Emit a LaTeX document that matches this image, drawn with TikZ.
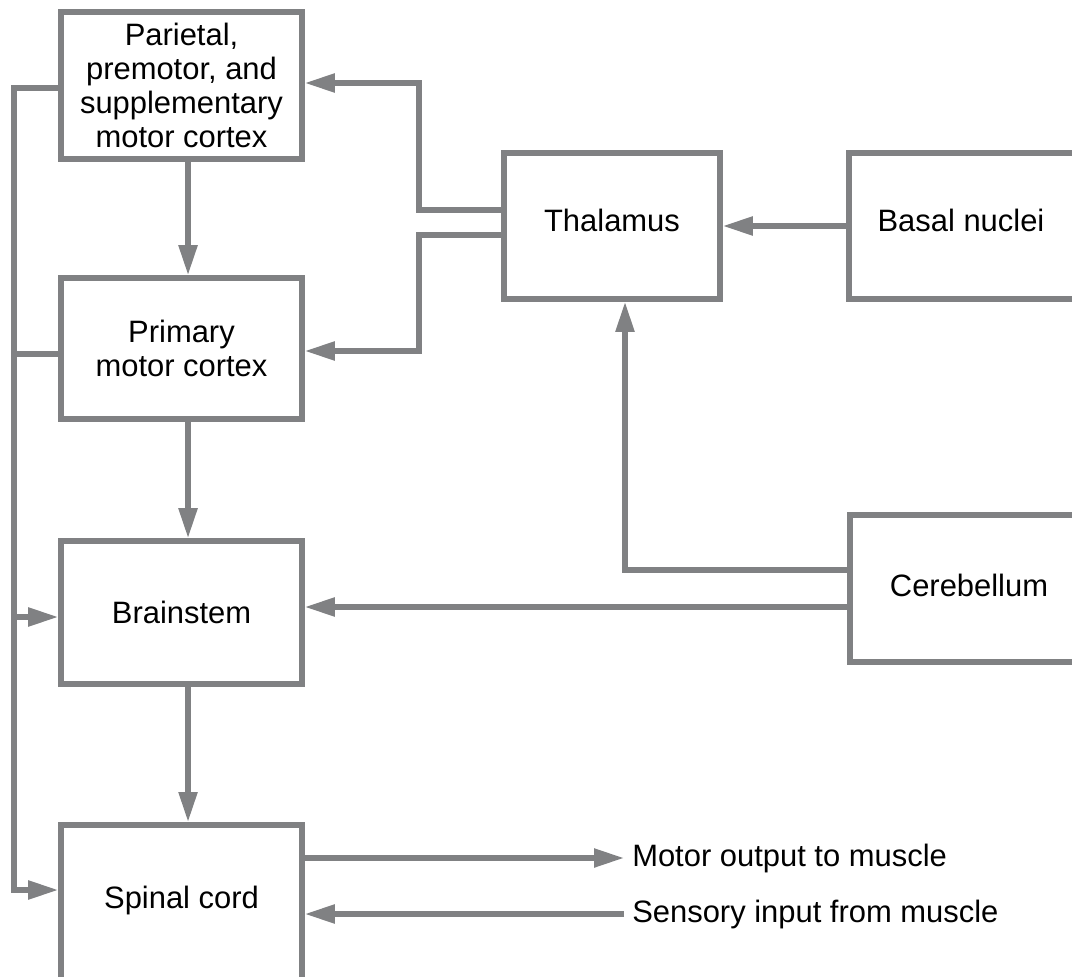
\documentclass[tikz,border=0pt]{standalone}
\usepackage{fontspec}
\setmainfont{Liberation Sans}
\usetikzlibrary{arrows.meta}
\definecolor{boxgray}{RGB}{128,129,131}
\begin{document}
\begin{tikzpicture}[x=0.75pt,y=-0.75pt,
  box/.style={draw=boxgray,line width=4.2pt,inner sep=0pt,text=black,
    font=\fontsize{23.2}{25.5}\selectfont},
  conn/.style={draw=boxgray,line width=4pt},
  arr/.style={-{Triangle[length=22.5pt,width=13.5pt]}},
  lbl/.style={font=\fontsize{23.2}{25.5}\selectfont,text=black,anchor=west,inner xsep=6pt,inner ysep=0pt}
]
\fill[white] (0,0) rectangle (1072,977);
\useasboundingbox (0,0) rectangle (1072,977);
\clip (0,0) rectangle (1072,977);

% boxes
\node[box,minimum width=180.75pt,minimum height=110.25pt,align=center] (par) at (181.5,85.5)
  {Parietal,\\premotor, and\\supplementary\\motor cortex};
\node[box,minimum width=180.75pt,minimum height=105.75pt,align=center] (pri) at (181.5,348.5)
  {Primary\\motor cortex};
\node[box,minimum width=180.75pt,minimum height=107.25pt] (bst) at (181.5,612.5) {Brainstem};
\node[box,minimum width=180.75pt,minimum height=135pt,anchor=north,text height=17pt,text depth=26pt] (spc) at (181.5,822) {Spinal cord};
\node[box,minimum width=162pt,minimum height=109.5pt,text height=16.5pt,text depth=7.5pt] (tha) at (612,226) {Thalamus};
\node[box,minimum width=187.5pt,minimum height=109.5pt,text height=16.5pt,text depth=7.5pt] (bas) at (974,226) {Basal nuclei\kern19.5pt};
\node[box,minimum width=195pt,minimum height=110.25pt,text height=16.5pt,text depth=5pt] (cer) at (980,588.5) {Cerebellum\kern16.5pt};

% labels
\node[lbl] (mo) at (624,858) {Motor output to muscle};
\node[lbl] (si) at (624,914) {Sensory input from muscle};

% coordinates
\coordinate (L1) at (14,88);
\coordinate (L2) at (14,354);
\coordinate (L3) at (14,617);
\coordinate (L4) at (14,890);
\coordinate (Ra) at (419,210);
\coordinate (Rb) at (419,83);
\coordinate (Rc) at (419,235);
\coordinate (Rd) at (419,351);
\coordinate (C1) at (625,570);
\coordinate (C2) at (625,607);

% vertical chain
\draw[conn,arr] ([xshift=4.9pt]par.south) -- ([xshift=4.9pt]pri.north);
\draw[conn,arr] ([xshift=4.9pt]pri.south) -- ([xshift=4.9pt]bst.north);
\draw[conn,arr] ([xshift=4.9pt]bst.south) -- ([xshift=4.9pt]spc.north);

% left feedback
\draw[conn,arr] (par.west |- L1) -- (L1) -- (L4) -- (spc.west |- L4);
\draw[conn] (pri.west |- L2) -- (L2);
\draw[conn,arr] (L3) -- (bst.west |- L3);

% thalamus outputs
\draw[conn,arr] (tha.west |- Ra) -- (Ra) -- (Rb) -- (par.east |- Rb);
\draw[conn,arr] (tha.west |- Rc) -- (Rc) -- (Rd) -- (pri.east |- Rd);

% basal nuclei and cerebellum
\draw[conn,arr] (bas.west) -- (tha.east);
\draw[conn,arr] (cer.west |- C1) -- (C1) -- (tha.south -| C1);
\draw[conn,arr] (cer.west |- C2) -- (bst.east |- C2);

% spinal cord I/O
\draw[conn,arr] (spc.east |- mo) -- (mo.west);
\draw[conn,arr] (si.west) -- (spc.east |- si);
\end{tikzpicture}
\end{document}
